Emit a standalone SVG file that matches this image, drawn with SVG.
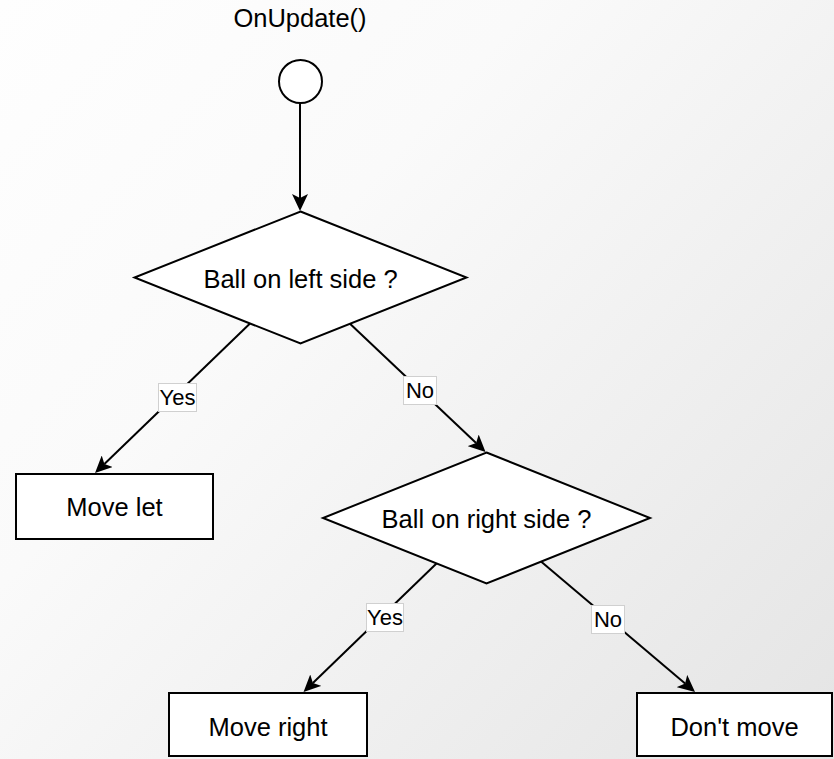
<svg xmlns="http://www.w3.org/2000/svg" width="834" height="759" viewBox="0 0 834 759">
  <defs>
    <linearGradient id="bg" x1="0" y1="0" x2="834" y2="759" gradientUnits="userSpaceOnUse">
      <stop offset="0" stop-color="#fefefe"/>
      <stop offset="0.35" stop-color="#fafafa"/>
      <stop offset="1" stop-color="#e4e4e4"/>
    </linearGradient>
    <marker id="arrow" viewBox="0 0 17 16" refX="4" refY="8" markerWidth="17" markerHeight="16" markerUnits="userSpaceOnUse" orient="auto">
      <path d="M0,0 L17,8 L0,16 L4,8 z" fill="#000"/>
    </marker>
    <style>
      .shape { fill: #ffffff; stroke: #000; stroke-width: 2; }
      .edge { fill: none; stroke: #000; stroke-width: 2; marker-end: url(#arrow); }
      .txt { font-family: "Liberation Sans", Arial, Helvetica, sans-serif; font-size: 25.5px; fill: #000; text-anchor: middle; }
      .lbl-box { fill: #ffffff; stroke: #d0d0d0; stroke-width: 1; }
      .lbl { font-family: "Liberation Sans", Arial, Helvetica, sans-serif; font-size: 22px; fill: #000; text-anchor: middle; }
    </style>
  </defs>

  <rect x="0" y="0" width="834" height="759" fill="url(#bg)"/>

  <!-- connectors -->
  <g id="connectors">
    <path class="edge" d="M300,103 L300,198"/>
    <path class="edge" d="M250,323.5 L104.4,464"/>
    <path class="edge" d="M350,323.8 L476.1,443.1"/>
    <path class="edge" d="M437,563 L312.9,683"/>
    <path class="edge" d="M541,561.5 L685.1,683.6"/>

    <g id="label-yes-1">
      <rect class="lbl-box" x="158.5" y="383.5" width="38" height="28"/>
      <text class="lbl" x="177.5" y="405">Yes</text>
    </g>
    <g id="label-no-1">
      <rect class="lbl-box" x="403.5" y="376.5" width="33" height="28"/>
      <text class="lbl" x="420" y="398">No</text>
    </g>
    <g id="label-yes-2">
      <rect class="lbl-box" x="366.5" y="603.5" width="37" height="28"/>
      <text class="lbl" x="385" y="625">Yes</text>
    </g>
    <g id="label-no-2">
      <rect class="lbl-box" x="591.5" y="605.5" width="33" height="28"/>
      <text class="lbl" x="608" y="627">No</text>
    </g>
  </g>

  <!-- start event -->
  <g id="start">
    <text class="txt" x="300" y="27">OnUpdate()</text>
    <ellipse class="shape" cx="300.5" cy="81.5" rx="21.5" ry="21.5"/>
  </g>

  <!-- decisions -->
  <g id="decision-left">
    <polygon class="shape" points="300.5,211.5 466.5,277.5 300.5,343.5 134.5,277.5"/>
    <text class="txt" x="300.5" y="288">Ball on left side ?</text>
  </g>
  <g id="decision-right">
    <polygon class="shape" points="486.5,452.5 650,518 486.5,583.5 323,518"/>
    <text class="txt" x="486.5" y="528">Ball on right side ?</text>
  </g>

  <!-- actions -->
  <g id="move-left">
    <rect class="shape" x="16" y="474" width="197" height="65"/>
    <text class="txt" x="114.5" y="516">Move let</text>
  </g>
  <g id="move-right">
    <rect class="shape" x="169" y="693" width="198" height="63"/>
    <text class="txt" x="268" y="736">Move right</text>
  </g>
  <g id="dont-move">
    <rect class="shape" x="637" y="693" width="195" height="63"/>
    <text class="txt" x="734.5" y="736">Don't move</text>
  </g>
</svg>
